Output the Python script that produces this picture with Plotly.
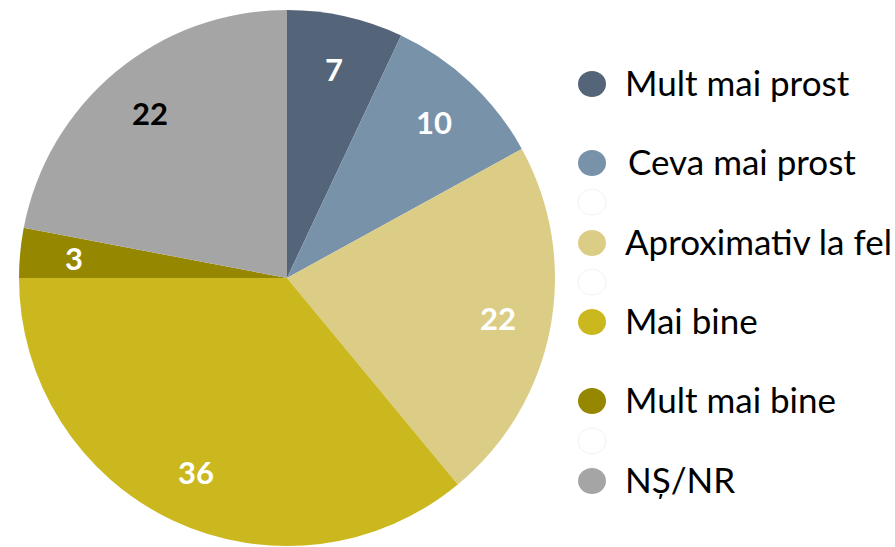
import math
import plotly.graph_objects as go

labels = ["Mult mai prost", "Ceva mai prost", "Aproximativ la fel", "Mai bine", "Mult mai bine", "NȘ/NR"]
values = [7, 10, 22, 36, 3, 22]
colors = ["#546579", "#7892aa", "#dccd86", "#cbb81f", "#968700", "#a5a5a5"]
text_colors = ["white", "white", "white", "white", "white", "black"]

W, H = 895, 547


def px(x):
    return x / W


def py(y):
    return 1 - y / H


CX, CY, R = 287, 278, 268

fig = go.Figure(go.Pie(
    labels=labels,
    values=values,
    sort=False,
    direction="clockwise",
    rotation=0,
    marker=dict(colors=colors, line=dict(width=0)),
    textinfo="none",
    showlegend=False,
    hoverinfo="label+value",
    domain=dict(x=[px(CX - R), px(CX + R)], y=[max(0.0, py(CY + R)), min(1.0, py(CY - R))]),
))

annotations = []
# slice value labels, placed at 0.8 of the radius at each slice's mid-angle
total = sum(values)
cum = 0
for v, tc in zip(values, text_colors):
    mid = (cum + v / 2) / total * 2 * math.pi
    cum += v
    x = CX + 0.8 * R * math.sin(mid)
    y = CY - 0.8 * R * math.cos(mid)
    annotations.append(dict(text=f"<b>{v}</b>", xref="paper", yref="paper",
                            x=px(x), y=py(y), xanchor="center", yanchor="middle",
                            showarrow=False,
                            font=dict(family="Lato", size=31, color=tc)))

# custom legend
row_y = [82, 161, 241, 320, 399, 479]
text_x = [623, 626, 623, 623, 623, 623]
circ_y = [84, 163, 243, 322, 401, 481]
shapes = []
for lab, col, y, cy, tx in zip(labels, colors, row_y, circ_y, text_x):
    shapes.append(dict(type="circle", xref="paper", yref="paper",
                       x0=px(578), x1=px(606),
                       y0=py(cy + 13), y1=py(cy - 13),
                       fillcolor=col, line=dict(width=0)))
    annotations.append(dict(text=lab, xref="paper", yref="paper",
                            x=px(tx), y=py(y), xanchor="left", yanchor="middle",
                            showarrow=False,
                            font=dict(family="Lato", size=35, color="black")))
# faint empty legend circles
for y in [202, 282, 441]:
    shapes.append(dict(type="circle", xref="paper", yref="paper",
                       x0=px(578), x1=px(606),
                       y0=py(y + 13), y1=py(y - 13),
                       fillcolor="white", line=dict(width=1, color="#f2f2f2")))

fig.update_layout(
    width=W, height=H,
    margin=dict(l=0, r=0, t=0, b=0),
    paper_bgcolor="white",
    plot_bgcolor="white",
    shapes=shapes,
    annotations=annotations,
)

fig.write_html("out.html",
               config={"displayModeBar": False},
               post_script="document.body.style.margin='0';document.body.style.overflow='hidden';")
